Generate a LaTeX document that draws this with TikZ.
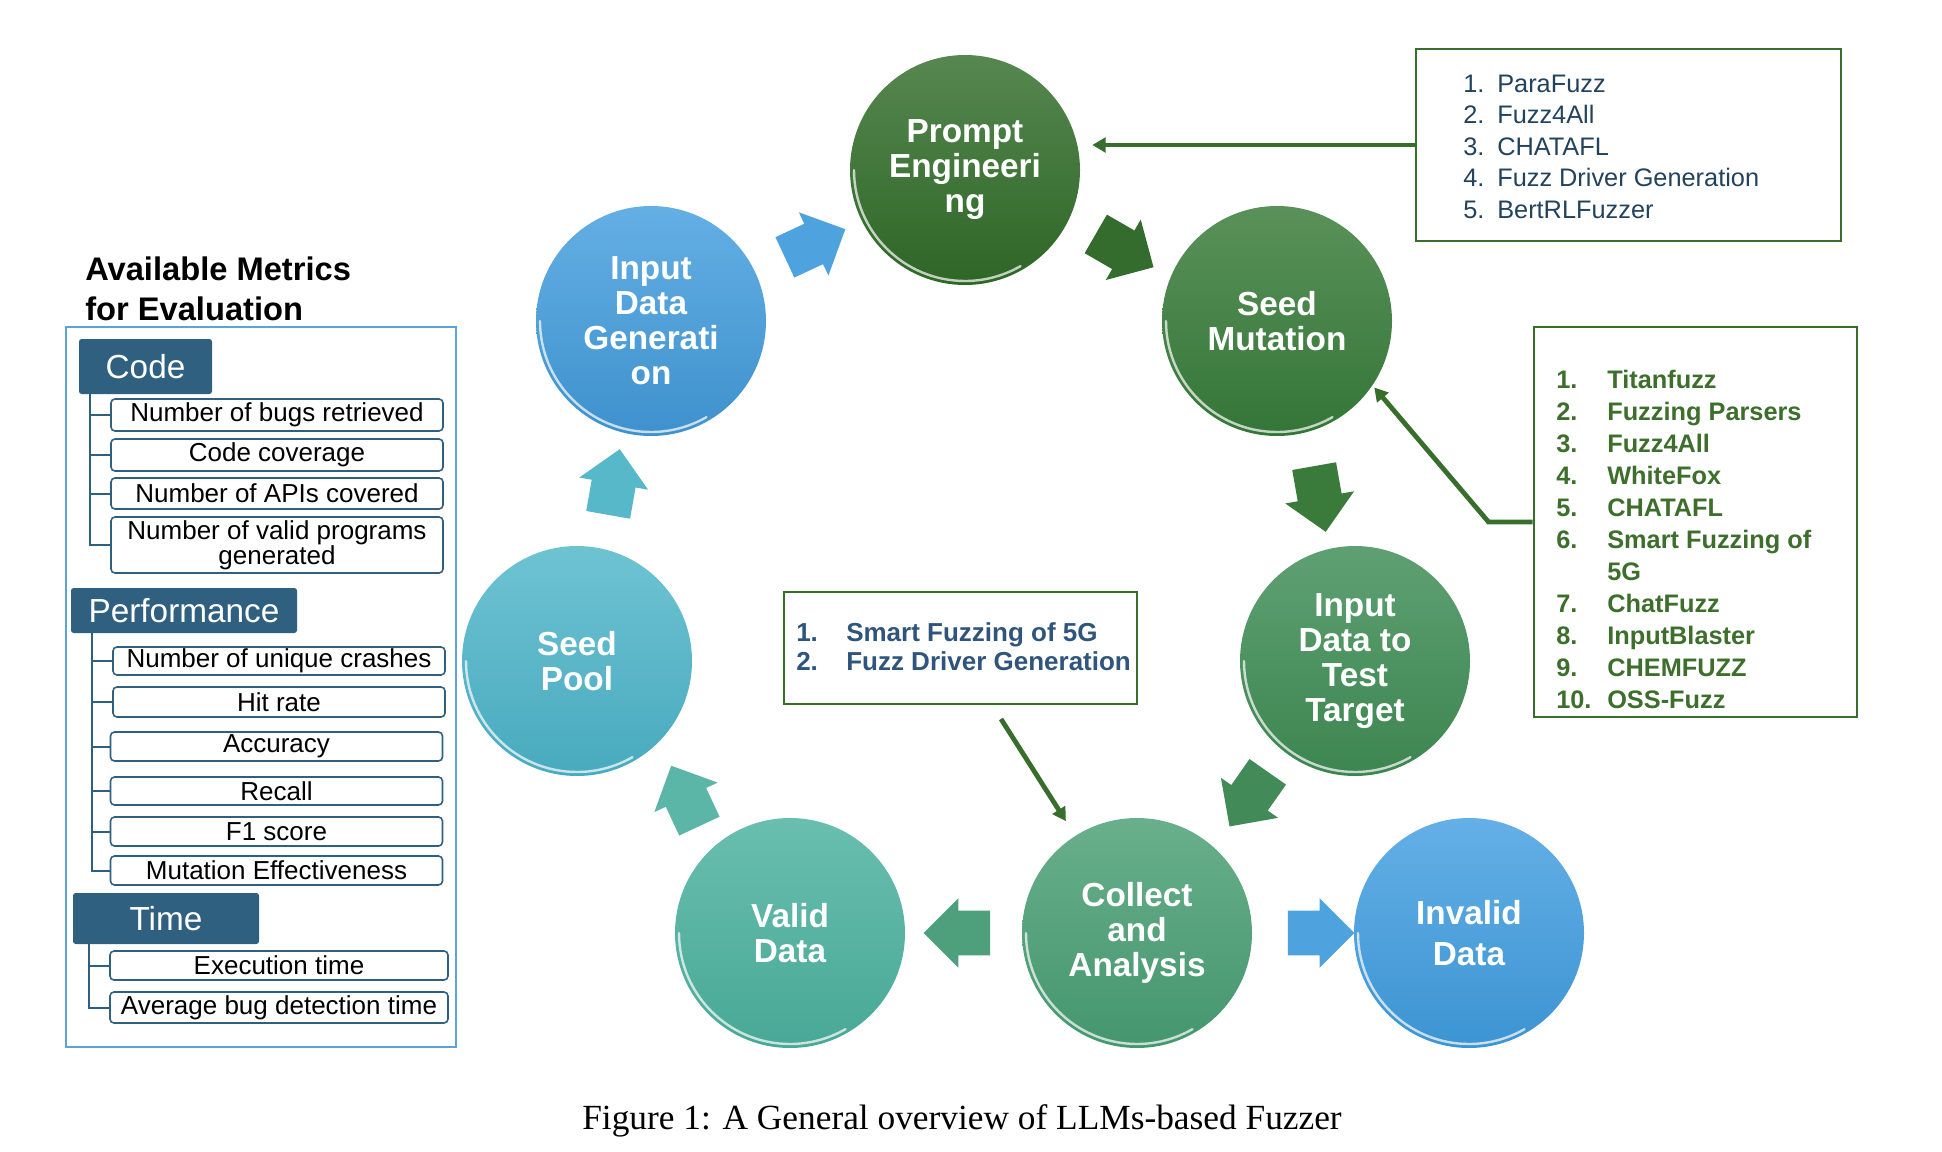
\documentclass[tikz,border=0pt]{standalone}
\usepackage{fontspec}
\setmainfont{Liberation Sans}
\newfontfamily\capfont{Liberation Serif}
\usetikzlibrary{shapes.arrows,arrows.meta}

\definecolor{hdrblue}{RGB}{47,96,128}
\definecolor{panelblue}{RGB}{91,163,217}
\definecolor{linkgreen}{RGB}{56,110,44}
\definecolor{listblue}{RGB}{35,66,92}
\definecolor{listgreen}{RGB}{62,110,44}
\definecolor{midblue}{RGB}{47,85,125}

\begin{document}
\begin{tikzpicture}[x=0.75pt,y=0.75pt,yscale=-1,xscale=1,
    bubble/.style={circle, minimum size=172.5pt, inner sep=0pt, align=center, text=white, font=\bfseries\fontsize{25}{26.25}\selectfont},
    bigarrow/.style={single arrow, minimum height=50pt, single arrow head extend=9.5pt, inner xsep=0pt, inner ysep=16.5pt},
    rim/.style={white, opacity=0.7, line width=1.8pt, line cap=round},
    header/.style={rounded corners=2pt, fill=hdrblue, text=white, inner sep=0pt, font=\fontsize{25}{30}\selectfont},
    metric/.style={draw=hdrblue, line width=1.2pt, rounded corners=3pt, fill=white, inner sep=0pt, align=center, font=\fontsize{19.5}{19}\selectfont},
    branch/.style={draw=hdrblue, line width=1.5pt},
    listbox/.style={draw=linkgreen, line width=2.2pt, inner sep=0pt},
    listtext/.style={anchor=north west, inner sep=0pt},
    link/.style={draw=linkgreen, line width=3.6pt, -{Triangle[length=10pt,width=11pt]}}
  ]
  \useasboundingbox (0,0) rectangle (1942,1152);

  %Metrics panel
  \node[font=\bfseries\fontsize{24.5}{30}\selectfont, align=left, anchor=west, inner sep=0pt] (title) at (85,289) {Available Metrics\\for Evaluation};
  \draw [draw=panelblue, line width=1.5pt] (66,327) rectangle (456,1047);

  \node[header, minimum width=99.75pt, minimum height=41.25pt] (hcode) at (145.5,366.5) {Code};
  \node[metric, minimum width=249pt, minimum height=24pt] (c1) at (277,415) {Number of bugs retrieved};
  \node[metric, minimum width=249pt, minimum height=24pt] (c2) at (277,455) {Code coverage};
  \node[metric, minimum width=249pt, minimum height=23.25pt] (c3) at (277,493.5) {Number of APIs covered};
  \node[metric, minimum width=249pt, minimum height=42pt] (c4) at (277,545) {Number of valid programs\\generated};
  \draw[branch] ([xshift=8.25pt]hcode.south west) |- (c1.west);
  \draw[branch] ([xshift=8.25pt]hcode.south west) |- (c2.west);
  \draw[branch] ([xshift=8.25pt]hcode.south west) |- (c3.west);
  \draw[branch] ([xshift=8.25pt]hcode.south west) |- (c4.west);

  \node[header, minimum width=169.5pt, minimum height=33.75pt] (hperf) at (184,610.5) {Performance};
  \node[metric, minimum width=249pt, minimum height=21pt] (p1) at (279,661) {Number of unique crashes};
  \node[metric, minimum width=249pt, minimum height=22.5pt] (p2) at (279,702) {Hit rate};
  \node[metric, minimum width=249pt, minimum height=21.75pt] (p3) at (276.5,746.5) {Accuracy};
  \node[metric, minimum width=249pt, minimum height=21pt] (p4) at (276.5,791) {Recall};
  \node[metric, minimum width=249pt, minimum height=21.75pt] (p5) at (276.5,831.5) {F1 score};
  \node[metric, minimum width=249pt, minimum height=21.75pt] (p6) at (276.5,870.5) {Mutation Effectiveness};
  \draw[branch] ([xshift=15.75pt]hperf.south west) |- (p1.west);
  \draw[branch] ([xshift=15.75pt]hperf.south west) |- (p2.west);
  \draw[branch] ([xshift=15.75pt]hperf.south west) |- (p3.west);
  \draw[branch] ([xshift=15.75pt]hperf.south west) |- (p4.west);
  \draw[branch] ([xshift=15.75pt]hperf.south west) |- (p5.west);
  \draw[branch] ([xshift=15.75pt]hperf.south west) |- (p6.west);

  \node[header, minimum width=139.5pt, minimum height=38.25pt] (htime) at (166,918.5) {Time};
  \node[metric, minimum width=253.5pt, minimum height=21.75pt] (t1) at (279,965.5) {Execution time};
  \node[metric, minimum width=253.5pt, minimum height=23.25pt] (t2) at (279,1007.5) {Average bug detection time};
  \draw[branch] ([xshift=12pt]htime.south west) |- (t1.west);
  \draw[branch] ([xshift=12pt]htime.south west) |- (t2.west);

  %Cycle of circles
  \node[bubble, top color={rgb,255:red,86;green,135;blue,80}, bottom color={rgb,255:red,46;green,102;blue,38}] (prompt) at (965,170) {Prompt\\Engineeri\\ng};
  \node[bubble, top color={rgb,255:red,90;green,145;blue,90}, bottom color={rgb,255:red,52;green,118;blue,55}] (seedmut) at (1277,321) {Seed\\Mutation};
  \node[bubble, top color={rgb,255:red,95;green,160;blue,115}, bottom color={rgb,255:red,60;green,133;blue,80}] (target) at (1355,661) {Input\\Data to\\Test\\Target};
  \node[bubble, top color={rgb,255:red,105;green,175;blue,140}, bottom color={rgb,255:red,68;green,150;blue,110}] (collect) at (1137,933) {Collect\\and\\Analysis};
  \node[bubble, top color={rgb,255:red,100;green,175;blue,230}, bottom color={rgb,255:red,60;green,148;blue,210}] (invalid) at (1469,933) {Invalid\\[4.5pt]Data};
  \node[bubble, top color={rgb,255:red,105;green,190;blue,175}, bottom color={rgb,255:red,72;green,168;blue,150}] (valid) at (790,933) {Valid\\Data};
  \node[bubble, top color={rgb,255:red,110;green,195;blue,210}, bottom color={rgb,255:red,72;green,170;blue,190}] (seedpool) at (577,661) {Seed\\Pool};
  \node[bubble, top color={rgb,255:red,100;green,175;blue,228}, bottom color={rgb,255:red,62;green,145;blue,205}] (inputgen) at (651,321) {Input\\Data\\Generati\\on};

  %Rim highlights
  \draw[rim] ([shift={(180:111)}]prompt.center) arc[start angle=180, end angle=60, radius=111];
  \draw[rim] ([shift={(180:111)}]seedmut.center) arc[start angle=180, end angle=60, radius=111];
  \draw[rim] ([shift={(180:111)}]target.center) arc[start angle=180, end angle=60, radius=111];
  \draw[rim] ([shift={(180:111)}]collect.center) arc[start angle=180, end angle=60, radius=111];
  \draw[rim] ([shift={(180:111)}]invalid.center) arc[start angle=180, end angle=60, radius=111];
  \draw[rim] ([shift={(180:111)}]valid.center) arc[start angle=180, end angle=60, radius=111];
  \draw[rim] ([shift={(180:111)}]seedpool.center) arc[start angle=180, end angle=60, radius=111];
  \draw[rim] ([shift={(180:111)}]inputgen.center) arc[start angle=180, end angle=60, radius=111];

  %Block arrows between circles
  \node[bigarrow, rotate=25, fill={rgb,255:red,78;green,162;blue,222}] (a1) at (805,248) {};
  \node[bigarrow, rotate=-30, fill={rgb,255:red,52;green,108;blue,45}] (a2) at (1115,245) {};
  \node[bigarrow, rotate=-80, fill={rgb,255:red,58;green,122;blue,58}] (a3) at (1318,488) {};
  \node[bigarrow, rotate=-125, fill={rgb,255:red,66;green,138;blue,88}] (a4) at (1255,790) {};
  \node[bigarrow, rotate=180, fill={rgb,255:red,78;green,160;blue,125}] (a5) at (968,933) {};
  \node[bigarrow, rotate=0, fill={rgb,255:red,78;green,162;blue,222}] (a6) at (1310,933) {};
  \node[bigarrow, rotate=115, fill={rgb,255:red,92;green,182;blue,168}] (a7) at (690,806) {};
  \node[bigarrow, rotate=80, fill={rgb,255:red,86;green,184;blue,200}] (a8) at (612,493) {};

  %Lists of fuzzers
  \node[listbox, minimum width=318.75pt, minimum height=144pt] (list1) at (1628.5,145) {};
  \node[listtext, text=listblue, font=\fontsize{19}{23.6}\selectfont] (list1txt) at (1463,70) {\begin{tabular}{@{}p{25.5pt}@{}l@{}}
    1. & ParaFuzz\\
    2. & Fuzz4All\\
    3. & CHATAFL\\
    4. & Fuzz Driver Generation\\
    5. & BertRLFuzzer
  \end{tabular}};

  \node[listbox, minimum width=242.25pt, minimum height=292.5pt] (list2) at (1695.5,522) {};
  \node[listtext, text=listgreen, font=\bfseries\fontsize{19}{24}\selectfont] (list2txt) at (1556,365.6) {\begin{tabular}{@{}p{38.25pt}@{}l@{}}
    1. & Titanfuzz\\
    2. & Fuzzing Parsers\\
    3. & Fuzz4All\\
    4. & WhiteFox\\
    5. & CHATAFL\\
    6. & Smart Fuzzing of\\
       & 5G\\
    7. & ChatFuzz\\
    8. & InputBlaster\\
    9. & CHEMFUZZ\\
    10. & OSS-Fuzz
  \end{tabular}};

  \node[listbox, line width=2pt, minimum width=264.75pt, minimum height=84pt] (list3) at (960.5,648) {};
  \node[listtext, text=midblue, font=\bfseries\fontsize{19.5}{21.75}\selectfont] (list3txt) at (796,620.7) {\begin{tabular}{@{}p{37.5pt}@{}l@{}}
    1. & Smart Fuzzing of 5G\\
    2. & Fuzz Driver Generation
  \end{tabular}};

  %Links from lists to circles
  \draw[link, shorten >=9pt] (list1.west) -- (list1.west -| prompt.east);
  \draw[link, shorten >=2pt] (list2.west) -- ++(-44,0) -- (seedmut.-34);
  \coordinate (list3tail) at (1001,719);
  \draw[link, shorten >=13pt] (list3tail) -- (collect);

  %Caption
  \node[font=\capfont\fontsize{26.5}{30}\selectfont, inner sep=0pt] (caption) at (962,1121) {Figure 1: A General overview of LLMs-based Fuzzer};
\end{tikzpicture}
\end{document}
